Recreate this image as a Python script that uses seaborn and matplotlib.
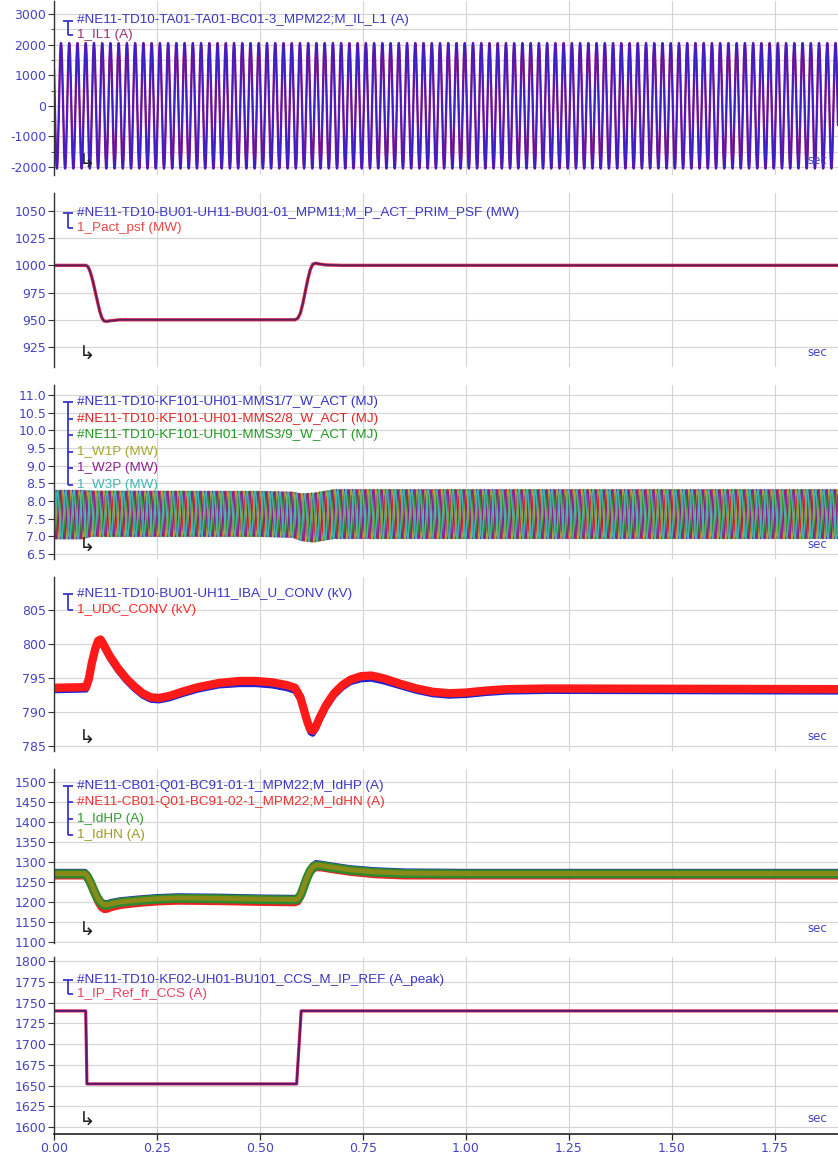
import numpy as np
import matplotlib
matplotlib.use("Agg")
import matplotlib.pyplot as plt
import matplotlib.transforms as mtrans
from matplotlib.ticker import MultipleLocator, FormatStrFormatter
import seaborn as sns

sns.set_theme(style="white")
plt.rcParams["font.family"] = ["DejaVu Sans"]

# ---------------- data ----------------
T_END = 1.903
x_ticks = [0.00, 0.25, 0.50, 0.75, 1.00, 1.25, 1.50, 1.75]

# Panel 1 : phase current (50 Hz)
il1_labels = ["#NE11-TD10-TA01-TA01-BC01-3_MPM22;M_IL_L1 (A)", "1_IL1 (A)"]
il1_freq_hz = 50.0
il1_amp = 2050.0
il1_first_peak_s = 0.017

# Panel 2 : active power
p_labels = ["#NE11-TD10-BU01-UH11-BU01-01_MPM11;M_P_ACT_PRIM_PSF (MW)", "1_Pact_psf (MW)"]
p_t = [0, 0.078, 0.083, 0.088, 0.094, 0.100, 0.106, 0.111, 0.116, 0.121, 0.127, 0.135, 0.160,
       0.585, 0.592, 0.598, 0.604, 0.610, 0.616, 0.622, 0.628, 0.635, 0.645, 0.660, 0.700, T_END]
p_v = [1000, 1000, 998.5, 994, 986, 976, 966, 958, 952, 949, 948.5, 949, 950,
       950, 951.5, 956, 965, 976, 987, 996, 1001, 1002, 1001.2, 1000.4, 1000, 1000]

# Panel 3 : arm energies (50 Hz ripple inside envelope)
w_labels = ["#NE11-TD10-KF101-UH01-MMS1/7_W_ACT (MJ)",
            "#NE11-TD10-KF101-UH01-MMS2/8_W_ACT (MJ)",
            "#NE11-TD10-KF101-UH01-MMS3/9_W_ACT (MJ)",
            "1_W1P (MW)", "1_W2P (MW)", "1_W3P (MW)"]
w_phase_deg = [0, 120, 240, 60, 180, 300]
w_freq_hz = 50.0
w_env_t = [0, 0.07, 0.09, 0.50, 0.58, 0.60, 0.63, 0.68, T_END]
w_env_top = [8.30, 8.30, 8.28, 8.27, 8.25, 8.20, 8.22, 8.32, 8.32]
w_env_bot = [6.93, 6.93, 7.00, 7.00, 6.97, 6.88, 6.84, 6.94, 6.94]

# Panel 4 : DC voltage
u_labels = ["#NE11-TD10-BU01-UH11_IBA_U_CONV (kV)", "1_UDC_CONV (kV)"]
u_t = [0, 0.078, 0.085, 0.092, 0.100, 0.107, 0.113, 0.120, 0.135, 0.155, 0.175, 0.195, 0.215, 0.235,
       0.255, 0.280, 0.310, 0.350, 0.400, 0.450, 0.490, 0.530, 0.565, 0.585, 0.598, 0.607, 0.615, 0.622,
       0.628, 0.635, 0.645, 0.660, 0.680, 0.700, 0.720, 0.745, 0.770, 0.800, 0.840, 0.880, 0.920, 0.960,
       1.000, 1.050, 1.100, 1.200, T_END]
u_red = [793.6, 793.7, 795.0, 797.3, 799.3, 800.5, 800.7, 800.0, 798.3, 796.5, 795.0, 793.8, 792.8, 792.2,
         792.1, 792.4, 793.0, 793.7, 794.3, 794.6, 794.6, 794.4, 794.0, 793.6, 792.2, 790.3, 788.6, 787.5,
         787.3, 787.8, 789.2, 791.0, 792.8, 794.0, 794.8, 795.3, 795.4, 795.0, 794.2, 793.5, 793.0, 792.8,
         792.9, 793.2, 793.4, 793.5, 793.4]
u_blue = [793.2, 793.3, 794.6, 796.9, 798.9, 800.1, 800.3, 799.6, 797.9, 796.1, 794.6, 793.4, 792.4, 791.8,
          791.7, 792.0, 792.6, 793.3, 793.9, 794.1, 794.1, 793.9, 793.5, 793.1, 791.8, 789.9, 788.2, 787.0,
          786.8, 787.4, 788.8, 790.6, 792.4, 793.6, 794.4, 794.8, 794.9, 794.5, 793.8, 793.1, 792.6, 792.4,
          792.5, 792.8, 793.0, 793.1, 793.0]

# Panel 5 : DC currents
id_labels = ["#NE11-CB01-Q01-BC91-01-1_MPM22;M_IdHP (A)",
             "#NE11-CB01-Q01-BC91-02-1_MPM22;M_IdHN (A)",
             "1_IdHP (A)", "1_IdHN (A)"]
id_t = [0, 0.075, 0.082, 0.090, 0.098, 0.106, 0.114, 0.122, 0.130, 0.140, 0.160, 0.200, 0.250, 0.300,
        0.400, 0.500, 0.585, 0.593, 0.600, 0.607, 0.614, 0.621, 0.628, 0.636, 0.650, 0.680, 0.720, 0.780,
        0.850, 1.000, T_END]
id_hp = [1270, 1270, 1262, 1245, 1226, 1209, 1197, 1192, 1192, 1195, 1199, 1203, 1207, 1209,
         1208, 1206, 1205, 1208, 1220, 1240, 1260, 1276, 1286, 1291, 1290, 1285, 1279, 1274,
         1271, 1270, 1270]
id_hn = [1271, 1271, 1263, 1246, 1227, 1210, 1198, 1193, 1193, 1196, 1200, 1204, 1208, 1210,
         1209, 1207, 1206, 1209, 1221, 1241, 1261, 1277, 1287, 1292, 1291, 1286, 1280, 1275,
         1272, 1271, 1271]
id_hp_meas = [1275, 1275, 1267, 1250, 1231, 1214, 1202, 1197, 1197, 1200, 1204, 1208, 1212, 1214,
              1213, 1211, 1210, 1213, 1225, 1245, 1265, 1281, 1291, 1297, 1295, 1290, 1284, 1279,
              1276, 1275, 1275]
id_hn_meas = [1263, 1263, 1254, 1236, 1215, 1197, 1184, 1179, 1180, 1184, 1189, 1194, 1198, 1200,
              1199, 1197, 1196, 1199, 1211, 1231, 1251, 1268, 1278, 1284, 1283, 1278, 1272, 1266,
              1263, 1263, 1263]

# Panel 6 : current reference
ip_labels = ["#NE11-TD10-KF02-UH01-BU101_CCS_M_IP_REF (A_peak)", "1_IP_Ref_fr_CCS (A)"]
ip_t = [0, 0.077, 0.080, 0.589, 0.600, T_END]
ip_v = [1740, 1740, 1652, 1652, 1740, 1740]

# ---------------- styling ----------------
BLUE = "#3a36c8"
TICKBLUE = "#4444c4"
GRID = "#d4d4d4"
LEG_FONT = ["Liberation Sans", "DejaVu Sans"]

FIG_W, FIG_H = 838, 1158
LEFT_PX = 54
panels_px = [(1, 175), (193, 367), (385, 559), (577, 751), (769, 943), (957, 1134)]

fig = plt.figure(figsize=(FIG_W / 100, FIG_H / 100), dpi=100)
axes = []
for (top, bot) in panels_px:
    ax = fig.add_axes([LEFT_PX / FIG_W, 1 - bot / FIG_H, (FIG_W - LEFT_PX) / FIG_W, (bot - top) / FIG_H])
    axes.append(ax)


def style_axis(ax, ylim, major, minor=None, fmt="%d", last=False):
    ax.set_xlim(0, T_END)
    ax.set_ylim(*ylim)
    ax.xaxis.set_major_locator(matplotlib.ticker.FixedLocator(x_ticks))
    ax.yaxis.set_major_locator(MultipleLocator(major))
    ax.yaxis.set_major_formatter(FormatStrFormatter(fmt))
    if minor:
        ax.yaxis.set_minor_locator(MultipleLocator(minor))
        ax.grid(True, which="minor", axis="y", color=GRID, lw=0.8)
    ax.grid(True, which="major", axis="both", color=GRID, lw=0.8)
    ax.set_axisbelow(True)
    for s in ["top", "right"]:
        ax.spines[s].set_visible(False)
    ax.spines["left"].set_color("#333333")
    ax.spines["left"].set_linewidth(1.0)
    ax.tick_params(axis="y", which="major", length=4, width=0.8, color="#333333",
                   labelcolor=TICKBLUE, labelsize=9, pad=1.5, left=True)
    ax.tick_params(axis="y", which="minor", length=2, width=0.6, color="#333333", left=True)
    if last:
        ax.spines["bottom"].set_color("#222222")
        ax.spines["bottom"].set_linewidth(1.2)
        ax.tick_params(axis="x", length=4, width=0.9, color="#222222",
                       labelcolor=TICKBLUE, labelsize=9, pad=2, bottom=True)
        ax.xaxis.set_major_formatter(FormatStrFormatter("%.2f"))
    else:
        ax.spines["bottom"].set_visible(False)
        ax.tick_params(axis="x", length=0, labelbottom=False)
    ax.set_xlabel("")
    ax.set_ylabel("")
    # "sec" unit label and trigger marker
    ax.text(0.974, 0.085, "sec", transform=ax.transAxes, color=TICKBLUE, fontsize=8.5,
            ha="center", va="center")
    trans = mtrans.blended_transform_factory(ax.transData, ax.transAxes)
    ax.text(0.08, 0.075, "\u21b3", transform=trans, color="#222222", fontsize=14,
            ha="center", va="center")


def legend_block(ax, labels, colors, h_px, top_off=18.0, sp=16.5):
    x_text = (77 - LEFT_PX) / (FIG_W - LEFT_PX)
    x_bar0 = (63 - LEFT_PX) / (FIG_W - LEFT_PX)
    x_bar1 = (73 - LEFT_PX) / (FIG_W - LEFT_PX)
    x_vert = (68 - LEFT_PX) / (FIG_W - LEFT_PX)
    ys = [1 - (top_off + i * sp) / h_px for i in range(len(labels))]
    for y, lab, c in zip(ys, labels, colors):
        ax.text(x_text, y, lab, transform=ax.transAxes, color=c, fontsize=9.7,
                family=LEG_FONT, ha="left", va="center")
    kw = dict(transform=ax.transAxes, color=BLUE, lw=1.3, solid_capstyle="butt")
    ax.plot([x_bar0, x_bar1], [ys[0], ys[0]], **kw)
    ax.plot([x_vert, x_vert], [ys[0], ys[-1]], **kw)
    for y in ys[1:]:
        ax.plot([x_vert, x_bar1], [y, y], **kw)


t = np.linspace(0, T_END, 7613)

# ---- Panel 1
ax = axes[0]
il1 = il1_amp * np.cos(2 * np.pi * il1_freq_hz * (t - il1_first_peak_s))
sns.lineplot(x=t, y=il1, ax=ax, color="#8a1a8a", lw=1.7, estimator=None, legend=False)
sns.lineplot(x=t, y=il1, ax=ax, color="#3a1ec8", lw=1.0, estimator=None, legend=False)
style_axis(ax, (-2261, 3425), 1000, minor=500)
legend_block(ax, il1_labels, [BLUE, "#993377"], 174, top_off=19.5, sp=14.5)

# ---- Panel 2
ax = axes[1]
sns.lineplot(x=p_t, y=p_v, ax=ax, color="#e8304a", lw=2.4, estimator=None, legend=False)
sns.lineplot(x=p_t, y=p_v, ax=ax, color="#5a2060", lw=1.3, estimator=None, legend=False)
style_axis(ax, (906.6, 1066.5), 25)
legend_block(ax, p_labels, [BLUE, "#e84848"], 174, top_off=20, sp=15)

# ---- Panel 3
ax = axes[2]
w_colors = ["#3030c8", "#e02424", "#229922", "#a8a830", "#902090", "#40b4b4"]
top_env = np.interp(t, w_env_t, w_env_top)
bot_env = np.interp(t, w_env_t, w_env_bot)
mid = (top_env + bot_env) / 2
half = (top_env - bot_env) / 2
for ph, c in zip(w_phase_deg, w_colors):
    w = mid + half * np.sin(2 * np.pi * w_freq_hz * t + np.deg2rad(ph))
    sns.lineplot(x=t, y=w, ax=ax, color=c, lw=1.0, estimator=None, legend=False)
style_axis(ax, (6.36, 11.28), 0.5, fmt="%.1f")
legend_block(ax, w_labels, w_colors, 174, top_off=17, sp=16.6)

# ---- Panel 4
ax = axes[3]
sns.lineplot(x=u_t, y=u_blue, ax=ax, color="#2020d0", lw=4.0, estimator=None, legend=False)
sns.lineplot(x=u_t, y=u_red, ax=ax, color="#ff1a1a", lw=6.0, estimator=None, legend=False)
style_axis(ax, (784.3, 809.9), 5)
legend_block(ax, u_labels, [BLUE, "#ff2a2a"], 174, top_off=16.5, sp=16)

# ---- Panel 5
ax = axes[4]
sns.lineplot(x=id_t, y=id_hp_meas, ax=ax, color="#2a2ab8", lw=4.5, estimator=None, legend=False)
sns.lineplot(x=id_t, y=id_hn_meas, ax=ax, color="#ee2020", lw=4.0, estimator=None, legend=False)
sns.lineplot(x=id_t, y=id_hp, ax=ax, color="#2e8a2e", lw=6.5, estimator=None, legend=False)
sns.lineplot(x=id_t, y=id_hn, ax=ax, color="#8a8a18", lw=3.5, estimator=None, legend=False)
style_axis(ax, (1097.5, 1532), 50)
legend_block(ax, id_labels, [BLUE, "#ee3030", "#2e9a2e", "#9a9a20"], 174, top_off=16.5, sp=16.6)

# ---- Panel 6
ax = axes[5]
sns.lineplot(x=ip_t, y=ip_v, ax=ax, color="#e8305a", lw=2.3, estimator=None, legend=False)
sns.lineplot(x=ip_t, y=ip_v, ax=ax, color="#5a1a70", lw=1.5, estimator=None, legend=False)
style_axis(ax, (1591.6, 1805), 25, last=True)
legend_block(ax, ip_labels, [BLUE, "#e84060"], 177, top_off=23, sp=14)

fig.savefig("out.png", dpi=100)
